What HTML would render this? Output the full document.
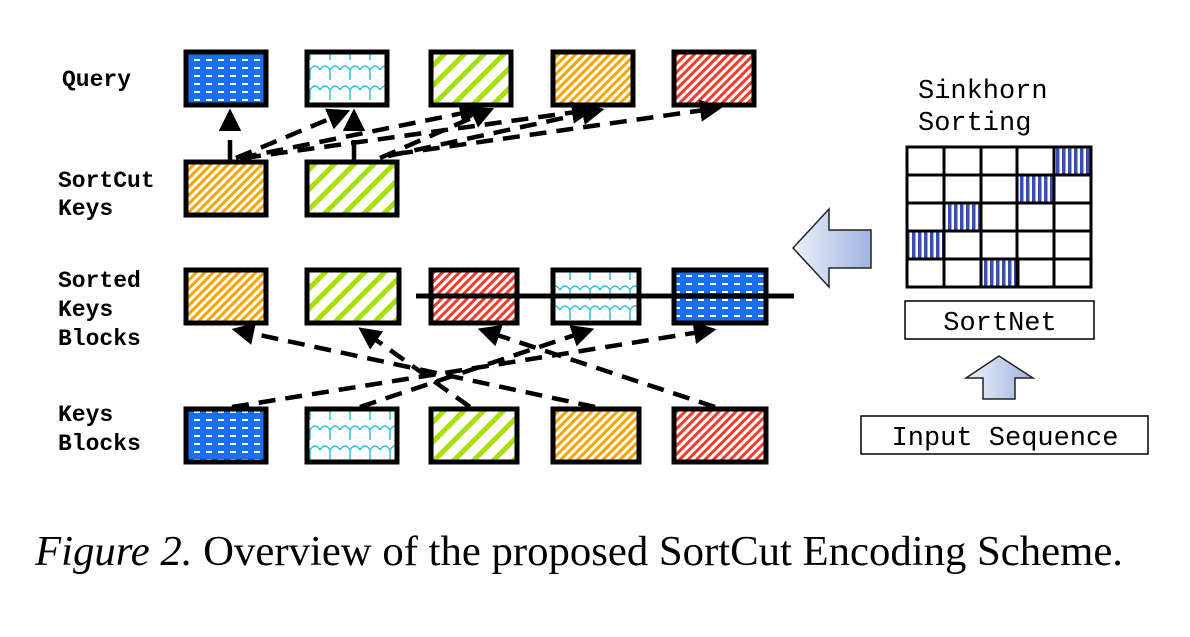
<!DOCTYPE html>
<html><head><meta charset="utf-8"><style>
html,body{margin:0;padding:0;background:#fff;}
body{width:1190px;height:632px;overflow:hidden;}
</style></head><body>
<svg width="1190" height="632" viewBox="0 0 1190 632" xmlns="http://www.w3.org/2000/svg">
<defs>
<pattern id="blue" width="12" height="8" patternUnits="userSpaceOnUse"><rect width="12" height="8" fill="#1a6ff0"/><rect x="2" y="3" width="6" height="2" fill="#fff"/></pattern>
<pattern id="cyan" width="20" height="20" patternUnits="userSpaceOnUse"><rect width="20" height="20" fill="#fff"/><path d="M0 10 Q5 2 10 10 Q15 2 20 10 M10 10 V20" stroke="#30c0d8" stroke-width="1.5" fill="none"/></pattern>
<pattern id="green" width="14" height="14" patternUnits="userSpaceOnUse" patternTransform="rotate(45)"><rect width="14" height="14" fill="#fff"/><rect width="5" height="14" fill="#a8e000"/></pattern>
<pattern id="orange" width="6" height="6" patternUnits="userSpaceOnUse" patternTransform="rotate(45)"><rect width="6" height="6" fill="#fff"/><rect width="3" height="6" fill="#f5a400"/></pattern>
<pattern id="red" width="6" height="6" patternUnits="userSpaceOnUse" patternTransform="rotate(45)"><rect width="6" height="6" fill="#fff"/><rect width="3" height="6" fill="#f03c2c"/></pattern>
<pattern id="vbar" width="6" height="10" patternUnits="userSpaceOnUse"><rect width="6" height="10" fill="#fff"/><rect width="3.5" height="10" fill="#3b4fb0"/></pattern>
<linearGradient id="ag" x1="0" x2="1" y1="0" y2="0"><stop offset="0" stop-color="#eef1fa"/><stop offset="1" stop-color="#9fb4e0"/></linearGradient>
<marker id="ah2" markerWidth="5" markerHeight="5" refX="4" refY="2.5" orient="auto" markerUnits="strokeWidth"><path d="M0,0 L5,2.5 L0,5 z" fill="#000"/></marker>
</defs>
<g font-family="Liberation Mono, monospace" font-size="23" fill="#000" font-weight="bold">
<text x="62" y="86">Query</text>
<text x="58" y="187">SortCut</text>
<text x="58" y="215">Keys</text>
<text x="58" y="287">Sorted</text>
<text x="58" y="316">Keys</text>
<text x="58" y="345">Blocks</text>
<text x="58" y="421">Keys</text>
<text x="58" y="450">Blocks</text>
</g>
<g stroke="#000" stroke-width="5">
<rect x="186" y="52" width="80" height="53" fill="url(#blue)"/>
<rect x="307" y="52" width="80" height="53" fill="url(#cyan)"/>
<rect x="431" y="52" width="80" height="53" fill="url(#green)"/>
<rect x="553" y="52" width="80" height="53" fill="url(#orange)"/>
<rect x="674" y="52" width="80" height="53" fill="url(#red)"/>
<rect x="186" y="162" width="80" height="53" fill="url(#orange)"/>
<rect x="307" y="162" width="90" height="53" fill="url(#green)"/>
<rect x="186" y="270" width="80" height="53" fill="url(#orange)"/>
<rect x="307" y="270" width="92" height="53" fill="url(#green)"/>
<rect x="431" y="270" width="86" height="53" fill="url(#red)"/>
<rect x="553" y="270" width="86" height="53" fill="url(#cyan)"/>
<rect x="674" y="270" width="92" height="53" fill="url(#blue)"/>
<rect x="186" y="409" width="80" height="53" fill="url(#blue)"/>
<rect x="307" y="409" width="90" height="53" fill="url(#cyan)"/>
<rect x="431" y="409" width="86" height="53" fill="url(#green)"/>
<rect x="553" y="409" width="86" height="53" fill="url(#orange)"/>
<rect x="674" y="409" width="92" height="53" fill="url(#red)"/>
</g>
<line x1="416" y1="296" x2="794" y2="296" stroke="#000" stroke-width="5"/>
<g stroke="#000" stroke-width="4.5" fill="none">
<line x1="230" y1="160" x2="230" y2="113" stroke-dasharray="20 10" marker-end="url(#ah2)"/>
<line x1="354" y1="160" x2="354" y2="113" stroke-dasharray="20 10" marker-end="url(#ah2)"/>
<g stroke-dasharray="17 10" marker-end="url(#ah2)">
<line x1="236" y1="158" x2="346" y2="112"/>
<line x1="240" y1="158" x2="478" y2="110"/>
<line x1="244" y1="158" x2="590" y2="110"/>
<line x1="380" y1="158" x2="490" y2="110"/>
<line x1="388" y1="156" x2="600" y2="110"/>
<line x1="396" y1="154" x2="718" y2="108"/>
<line x1="232" y1="407" x2="712" y2="330"/>
<line x1="360" y1="407" x2="590" y2="330"/>
<line x1="470" y1="407" x2="362" y2="330"/>
<line x1="595" y1="407" x2="236" y2="330"/>
<line x1="715" y1="407" x2="482" y2="330"/>
</g>
</g>
<path d="M793,248 L829,209 L829,230 L871,230 L871,268 L829,268 L829,287 Z" fill="url(#ag)" stroke="#222" stroke-width="1.5"/>
<path d="M999,356 L1033,378 L1015,378 L1015,399 L983,399 L983,378 L966,378 Z" fill="url(#ag)" stroke="#222" stroke-width="1.5"/>
<g font-family="Liberation Mono, monospace" font-size="27" fill="#000">
<text x="918" y="98">Sinkhorn</text>
<text x="918" y="130">Sorting</text>
</g>
<g stroke="#000" stroke-width="3">
<rect x="1054" y="147" width="37" height="28" fill="url(#vbar)"/>
<rect x="1017" y="175" width="37" height="28" fill="url(#vbar)"/>
<rect x="944" y="203" width="37" height="28" fill="url(#vbar)"/>
<rect x="907" y="231" width="37" height="28" fill="url(#vbar)"/>
<rect x="981" y="259" width="37" height="28" fill="url(#vbar)"/>
<rect x="907" y="147" width="184" height="140" fill="none"/>
<path d="M944 147V287M981 147V287M1017 147V287M1054 147V287M907 175H1091M907 203H1091M907 231H1091M907 259H1091" fill="none"/>
</g>
<rect x="905" y="301" width="189" height="38" fill="#fff" stroke="#000" stroke-width="1.5"/>
<text x="1000" y="330" text-anchor="middle" font-family="Liberation Mono, monospace" font-size="27">SortNet</text>
<rect x="861" y="416" width="287" height="38" fill="#fff" stroke="#000" stroke-width="1.5"/>
<text x="1005" y="445" text-anchor="middle" font-family="Liberation Mono, monospace" font-size="27">Input Sequence</text>
<text x="35" y="565" font-family="Liberation Serif, serif" font-size="42" textLength="1088" lengthAdjust="spacingAndGlyphs"><tspan font-style="italic">Figure 2.</tspan> Overview of the proposed SortCut Encoding Scheme.</text>
</svg>
</body></html>
